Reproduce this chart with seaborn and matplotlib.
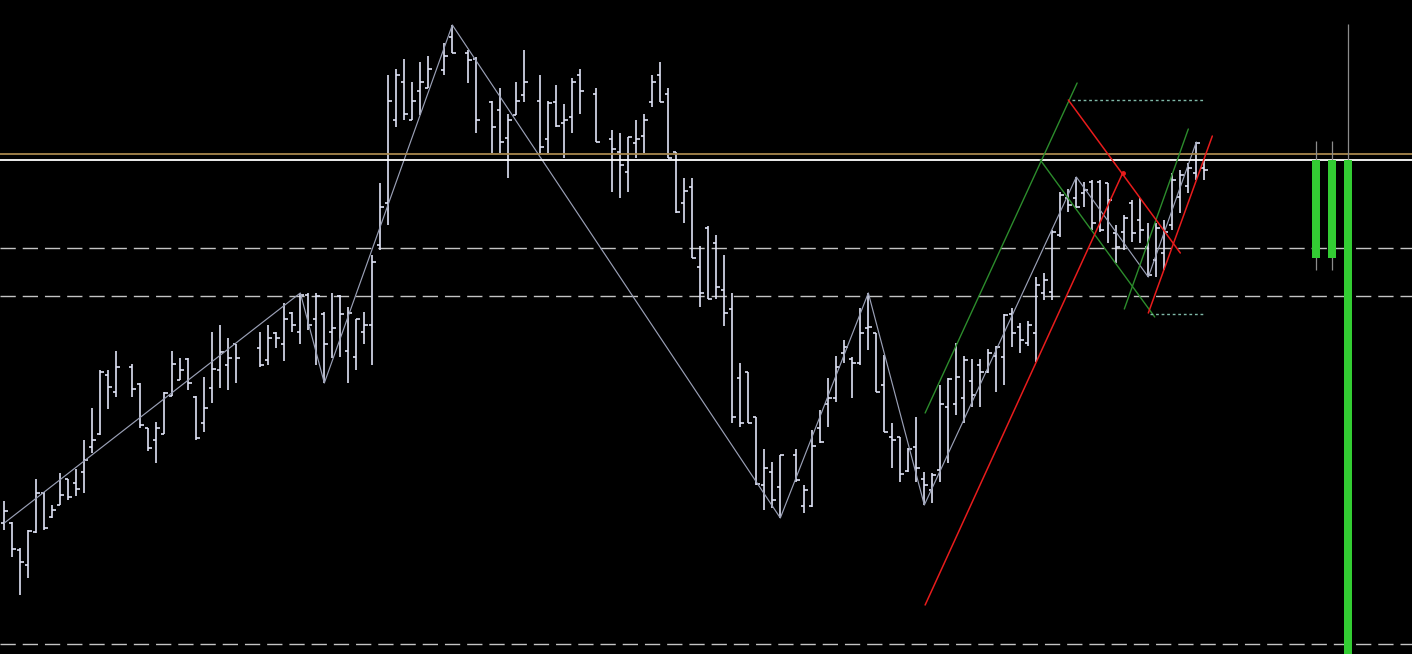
import numpy as np
import pandas as pd
import matplotlib
matplotlib.use("Agg")
import matplotlib.pyplot as plt
import seaborn as sns

nan = np.nan

# OHLC bars in screen units (0 = top of the chart window), nan = no bar
bar_open = [523, 523, 550, 565, 532, 493, 517, 505, 479, 483, 472, 447, 434, 375, 392, nan,
            367, 384, 428, 440, 434, 396, 380, 359, 397, 423, 388, 370, 365, 344, nan, nan,
            348, 360, 333, 344, 313, 332, 295, 319, 314, 332, 296, 351, 357, 332, 325, 245,
            203, 120, 82, 120, 91, 88, nan, 70, 37, nan, 53, 59, nan, 102, 110, 138,
            115, 95, nan, 101, 139, 102, 123, 117, 75, nan, 94, nan, 139, 152, 172, 143,
            136, 102, 75, 94, 152, 203, 187, 267, 228, 243, 290, 309, 378, 372, 417, 485,
            472, 487, nan, 455, 506, 506, 428, 404, 398, 353, 359, 363, 328, 333, 385, 437,
            437, 471, 447, 479, 490, 470, 407, 404, 398, 381, 365, 372, 356, 357, 314, 327,
            343, 333, 293, 292, 235, 198, 198, 193, 182, 182, 183, 233, 232, 203, 220, 247,
            260, 253, 225, 197, 186, 173, 168]
bar_high = [501, 522, 548, 530, 479, 492, 505, 473, 479, 469, 440, 408, 370, 370, 351, nan,
            364, 383, 428, 422, 392, 351, 358, 358, 396, 377, 332, 325, 338, 344, nan, nan,
            332, 325, 332, 303, 312, 293, 293, 293, 312, 293, 295, 307, 319, 312, 255, 183,
            75, 69, 59, 82, 62, 56, nan, 43, 25, nan, 50, 57, nan, 101, 88, 114,
            82, 50, nan, 75, 101, 85, 104, 78, 69, nan, 88, nan, 130, 133, 137, 120,
            114, 75, 62, 88, 152, 178, 178, 246, 226, 235, 255, 293, 363, 372, 417, 449,
            462, 455, nan, 449, 485, 430, 410, 378, 356, 340, 357, 308, 293, 333, 355, 423,
            437, 448, 417, 472, 473, 385, 378, 343, 356, 359, 359, 349, 346, 314, 308, 323,
            321, 277, 273, 230, 192, 189, 177, 182, 180, 180, 183, 225, 215, 200, 198, 223,
            223, 220, 173, 170, 163, 142, 160]
bar_low = [530, 557, 595, 578, 533, 530, 518, 505, 500, 496, 493, 453, 435, 409, 397, nan,
           397, 428, 451, 463, 434, 396, 380, 390, 440, 432, 403, 388, 390, 383, nan, nan,
           367, 365, 348, 361, 332, 344, 330, 365, 383, 358, 357, 383, 370, 344, 365, 250,
           225, 127, 120, 120, 115, 88, nan, 75, 53, nan, 83, 133, nan, 153, 153, 178,
           115, 102, nan, 153, 153, 127, 158, 133, 114, nan, 142, nan, 192, 198, 192, 158,
           153, 107, 102, 158, 213, 223, 258, 307, 299, 299, 326, 423, 427, 423, 485, 510,
           508, 518, nan, 482, 513, 507, 443, 427, 402, 363, 398, 365, 350, 392, 432, 468,
           482, 472, 482, 505, 503, 482, 463, 415, 423, 407, 407, 373, 392, 385, 347, 353,
           346, 362, 300, 300, 237, 212, 208, 207, 230, 232, 243, 263, 250, 242, 243, 277,
           277, 270, 230, 213, 193, 180, 180]
bar_close = [511, 549, 562, 531, 493, 528, 510, 495, 497, 489, 460, 440, 372, 387, 367, nan,
             389, 425, 448, 428, 393, 364, 370, 383, 438, 408, 369, 352, 358, 358, nan, nan,
             365, 338, 338, 319, 325, 295, 325, 296, 344, 328, 314, 313, 319, 325, 262, 207,
             101, 75, 114, 101, 82, 69, nan, 56, 53, nan, 60, 120, nan, 127, 142, 120,
             101, 82, nan, 147, 103, 126, 120, 82, 91, nan, 142, nan, 149, 165, 137, 139,
             120, 82, 102, 158, 212, 191, 258, 293, 299, 287, 313, 417, 423, 423, 484, 468,
             500, 455, nan, 480, 490, 446, 442, 398, 367, 347, 363, 333, 327, 392, 432, 440,
             474, 449, 468, 485, 475, 404, 379, 377, 360, 395, 372, 353, 347, 315, 333, 340,
             325, 285, 280, 232, 195, 205, 207, 190, 223, 230, 200, 247, 218, 233, 230, 275,
             228, 232, 180, 175, 168, 143, 170]

# zigzag turning points (bar index, level)
zz_bar = [0, 37, 40, 56, 97, 108, 115, 134, 143, 149]
zz_level = [523, 293, 383, 25, 518, 293, 505, 177, 277, 142]

# horizontal levels
solid_levels = [154, 160]
solid_colors = ["#a8884e", "#ffffff"]
dashed_levels = [248, 296, 644]

# hand drawn channel lines: (x0, x1, y0, y1) in bar units
green_x0 = [115.1, 129.5, 140.0]
green_x1 = [134.1, 143.8, 148.0]
green_y0 = [413, 160, 309]
green_y1 = [83, 317, 129]
red_x0 = [115.1, 133.0, 143.0]
red_x1 = [139.8, 147.0, 151.0]
red_y0 = [605, 100, 313]
red_y1 = [173, 253, 136]
dot_x0 = [133.5, 143.2]
dot_x1 = [150.1, 150.1]
dot_y = [100, 314]

# boxes on the right side
box_bar = [164, 166, 168]
box_top = [160, 160, 160]
box_bottom = [258, 258, 660]
box_wick_hi = [141, 141, 24]
box_wick_lo = [270, 270, 660]

sns.set_style("dark", {"axes.facecolor": "black", "figure.facecolor": "black"})

fig = plt.figure(figsize=(14.12, 6.54), dpi=100)
ax = fig.add_axes([0, 0, 1, 1])
ax.set_facecolor("black")

bars = pd.DataFrame({"open": bar_open, "high": bar_high, "low": bar_low, "close": bar_close})
bars["x"] = np.arange(len(bars))
bars = bars.dropna()

for lvl in dashed_levels:
    ax.axhline(lvl, color="#c4c4c4", lw=1.0, ls=(0, (11, 5)), zorder=1)

bar_col = "#dfe3f6"
ax.vlines(bars["x"], bars["high"], bars["low"], color=bar_col, lw=1.2, zorder=3)
ax.hlines(bars["open"], bars["x"] - 0.42, bars["x"], color=bar_col, lw=1.2, zorder=3)
ax.hlines(bars["close"], bars["x"], bars["x"] + 0.42, color=bar_col, lw=1.2, zorder=3)

zz = pd.DataFrame({"x": zz_bar, "y": zz_level})
sns.lineplot(data=zz, x="x", y="y", sort=False, estimator=None, color="#9aa0b6",
             lw=0.85, ax=ax, legend=False, zorder=4)

for lvl, c in zip(solid_levels, solid_colors):
    ax.axhline(lvl, color=c, lw=1.3, zorder=5)

for x0, x1, y0, y1 in zip(green_x0, green_x1, green_y0, green_y1):
    seg = pd.DataFrame({"x": [x0, x1], "y": [y0, y1]})
    sns.lineplot(data=seg, x="x", y="y", sort=False, estimator=None, color="#2c8c2c",
                 lw=1.0, ax=ax, legend=False, zorder=6)
for x0, x1, y0, y1 in zip(red_x0, red_x1, red_y0, red_y1):
    seg = pd.DataFrame({"x": [x0, x1], "y": [y0, y1]})
    sns.lineplot(data=seg, x="x", y="y", sort=False, estimator=None, color="#e81c1c",
                 lw=1.1, ax=ax, legend=False, zorder=6)
ax.plot([red_x1[0]], [red_y1[0]], "o", color="#e81c1c", ms=2.5, zorder=7)
for x0, x1, y in zip(dot_x0, dot_x1, dot_y):
    ax.hlines(y, x0, x1, color="#7fb8a8", lw=1.0, ls=(0, (2, 2)), zorder=6)

ax.vlines(box_bar, box_wick_hi, box_wick_lo, color="#8c8c8c", lw=0.9, zorder=6)
ax.bar(box_bar, np.array(box_bottom) - np.array(box_top), bottom=box_top, width=1.0,
       color="#33cc33", edgecolor="none", zorder=7)

ax.set_xlim(-0.54, 175.96)
ax.set_ylim(654, 0)
ax.set_xticks([])
ax.set_yticks([])
ax.set_xlabel("")
ax.set_ylabel("")
for s in ax.spines.values():
    s.set_visible(False)

fig.savefig("out.png", dpi=100, facecolor="black")
